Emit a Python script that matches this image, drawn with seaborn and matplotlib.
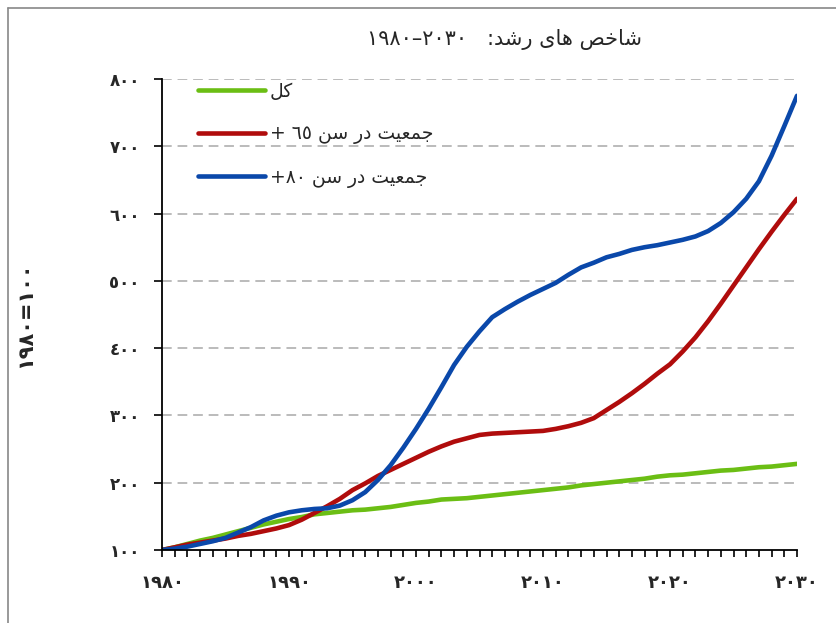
import matplotlib
matplotlib.use("Agg")
import matplotlib.pyplot as plt
import seaborn as sns
import pandas as pd
from matplotlib.lines import Line2D
from matplotlib.ticker import MultipleLocator, FixedLocator

years = list(range(1980, 2031))
total = [100, 104, 109, 114, 118, 123, 128, 133, 138, 142, 146, 149, 153, 155, 157, 159, 160, 162, 164, 167,
         170, 172, 175, 176, 177, 179, 181, 183, 185, 187, 189, 191, 193, 196, 198, 200, 202, 204, 206, 209,
         211, 212, 214, 216, 218, 219, 221, 223, 224, 226, 228]
pop65 = [100, 104, 108, 111, 114, 117, 121, 124, 128, 132, 137, 145, 155, 165, 176, 189, 199, 210, 219, 228,
         237, 246, 254, 261, 266, 271, 273, 274, 275, 276, 277, 280, 284, 289, 296, 308, 320, 333, 347, 362,
         376, 395, 416, 440, 466, 493, 520, 547, 573, 598, 622]
pop80 = [100, 102, 105, 109, 113, 118, 126, 134, 144, 151, 156, 159, 161, 162, 166, 174, 186, 204, 226, 252,
         280, 310, 342, 375, 402, 425, 446, 458, 469, 479, 488, 497, 509, 520, 527, 535, 540, 546, 550, 553,
         557, 561, 566, 574, 586, 602, 622, 648, 686, 730, 775]

# Arabic text in visual order with presentation forms
jamiat = "\uFE96\uFEF4\uFECC\uFEE4\uFE9F"
dar = "\uFEAD\uFEA9"
sen = "\uFEE6\uFEB3"
series_names = [
    "\uFEDE\uFEDB",
    "+ \u0666\u0665 " + sen + " " + dar + " " + jamiat,
    "+\u0668\u0660 " + sen + " " + dar + " " + jamiat,
]
title_text = ("\u0661\u0669\u0668\u0660\u2013\u0662\u0660\u0663\u0660   :"
              + "\uFEAA\uFEB7\uFEAD" + " " + "\uFEEF\uFE8E\uFEEB" + " " + "\uFEBA\uFEA7\uFE8E\uFEB7")
ylabel_text = "\u0661\u0669\u0668\u0660=\u0661\u0660\u0660"
digits = "\u0660\u0661\u0662\u0663\u0664\u0665\u0666\u0667\u0668\u0669"
def ar(n):
    return "".join(digits[int(c)] for c in str(n))
xticks = [1980, 1990, 2000, 2010, 2020, 2030]
yticks = [100, 200, 300, 400, 500, 600, 700, 800]
colors = ["#6BBE14", "#B00C0C", "#0A48AA"]

df = pd.DataFrame({
    "year": years * 3,
    "value": total + pop65 + pop80,
    "series": [series_names[0]] * len(years) + [series_names[1]] * len(years) + [series_names[2]] * len(years),
})

sns.set_theme(style="white")
plt.rcParams['font.family'] = ['DejaVu Sans']

fig = plt.figure(figsize=(8.36, 6.23), dpi=100)
ax = fig.add_axes([162/836, 1-550/623, (797-162)/836, (550-79)/623])

sns.lineplot(data=df, x="year", y="value", hue="series", hue_order=series_names,
             palette=colors, linewidth=3.3, ax=ax, legend=True)

ax.set_xlim(1980, 2030)
ax.set_ylim(100, 800)
for y in yticks[1:]:
    ax.axhline(y, color="#BBBBBB", lw=1.4, ls=(0, (5, 3)), zorder=0)

ax.xaxis.set_major_locator(FixedLocator(xticks))
ax.xaxis.set_minor_locator(MultipleLocator(1))
ax.set_xticks(xticks)
ax.set_xticklabels([ar(x) for x in xticks], fontsize=13, fontweight="bold")
ax.set_yticks(yticks)
ax.set_yticklabels([ar(y) for y in yticks], fontsize=12, fontweight="bold")
ax.tick_params(axis="x", which="both", direction="out", length=5, width=1.2, color="black", pad=12, bottom=True)
ax.tick_params(axis="y", which="major", direction="out", length=6, width=1.2, color="black", pad=10, left=True)

for s in ["top", "right"]:
    ax.spines[s].set_visible(False)
for s in ["left", "bottom"]:
    ax.spines[s].set_color("black")
    ax.spines[s].set_linewidth(1.3)

ax.set_xlabel("")
ax.set_ylabel(ylabel_text, fontsize=15, fontweight="bold")
ax.yaxis.set_label_coords(-0.2, 0.5)

fig.text(505/836, 1-40/623, title_text, fontsize=15, ha="center", va="center")

leg = ax.legend(loc="upper left", bbox_to_anchor=(0.03, 1.03), frameon=False, fontsize=13.5,
                handlelength=3.6, labelspacing=1.25, handletextpad=0.25)
for line in leg.get_lines():
    line.set_linewidth(3.3)

fig.add_artist(Line2D([8/836, 8/836], [0, 1-8/623], color="#888888", lw=1.2))
fig.add_artist(Line2D([8/836, 1], [1-8/623, 1-8/623], color="#888888", lw=1.2))

fig.savefig("out.png", dpi=100)
